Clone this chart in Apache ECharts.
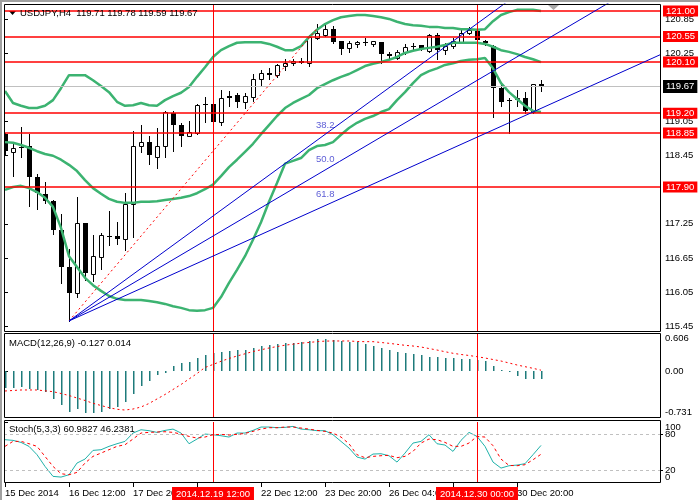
<!DOCTYPE html>
<html>
<head>
<meta charset="utf-8">
<script src="https://cdn.jsdelivr.net/npm/echarts@6/dist/echarts.min.js"></script>
<style>html,body{margin:0;padding:0;background:#fff;}#c{width:700px;height:500px;}</style>
</head>
<body>
<div id="c"></div>
<script>
// ---------------- DATA ----------------
const barTimes = [
 '15 Dec 04:00','15 Dec 08:00','15 Dec 12:00','15 Dec 16:00','15 Dec 20:00',
 '16 Dec 00:00','16 Dec 04:00','16 Dec 08:00','16 Dec 12:00','16 Dec 16:00','16 Dec 20:00',
 '17 Dec 00:00','17 Dec 04:00','17 Dec 08:00','17 Dec 12:00','17 Dec 16:00','17 Dec 20:00',
 '18 Dec 00:00','18 Dec 04:00','18 Dec 08:00','18 Dec 12:00','18 Dec 16:00','18 Dec 20:00',
 '19 Dec 00:00','19 Dec 04:00','19 Dec 08:00','19 Dec 12:00','19 Dec 16:00','19 Dec 20:00',
 '22 Dec 00:00','22 Dec 04:00','22 Dec 08:00','22 Dec 12:00','22 Dec 16:00','22 Dec 20:00',
 '23 Dec 00:00','23 Dec 04:00','23 Dec 08:00','23 Dec 12:00','23 Dec 16:00','23 Dec 20:00',
 '24 Dec 00:00','24 Dec 04:00','24 Dec 08:00','24 Dec 12:00','24 Dec 16:00','24 Dec 20:00',
 '26 Dec 00:00','26 Dec 04:00','26 Dec 08:00','26 Dec 12:00','26 Dec 16:00','26 Dec 20:00',
 '29 Dec 00:00','29 Dec 04:00','29 Dec 08:00','29 Dec 12:00','29 Dec 16:00','29 Dec 20:00',
 '30 Dec 00:00','30 Dec 04:00','30 Dec 08:00','30 Dec 12:00','30 Dec 16:00','30 Dec 20:00',
 '31 Dec 00:00','31 Dec 04:00','31 Dec 08:00'
];
const opens = [
 118.83,118.52,118.61,118.62,118.07,117.78,117.65,117.14,116.49,116.04,
 117.26,116.36,116.67,117.04,117.04,116.98,117.60,118.63,118.69,118.43,
 118.63,119.20,118.99,118.80,118.85,119.36,119.37,119.05,119.50,119.52,
 119.40,119.48,119.81,119.90,119.87,120.03,120.08,120.12,120.08,120.52,
 120.58,120.68,120.48,120.34,120.42,120.46,120.41,120.45,120.25,120.17,
 120.28,120.38,120.40,120.30,120.58,120.31,120.39,120.46,120.61,120.65,
 120.47,120.38,119.65,119.43,119.46,119.47,119.22,119.71];
const closes = [
 118.54,118.58,118.61,118.08,117.79,117.66,117.15,116.49,116.04,117.26,
 116.38,116.68,117.05,117.04,116.98,117.60,118.62,118.69,118.46,118.62,
 119.22,118.99,118.80,118.86,119.34,119.36,119.05,119.46,119.47,119.40,
 119.50,119.81,119.90,119.88,120.05,120.09,120.12,120.09,120.55,120.61,
 120.68,120.46,120.33,120.43,120.46,120.45,120.48,120.25,120.20,120.28,
 120.36,120.36,120.33,120.58,120.31,120.39,120.47,120.61,120.67,120.49,
 120.44,119.64,119.40,119.42,119.47,119.24,119.71,119.67];
const lows = [
 118.46,118.09,118.43,117.56,117.52,117.62,117.08,116.20,115.54,115.97,
 116.26,116.25,116.45,116.88,116.90,116.79,117.01,118.52,118.31,118.23,
 118.42,118.53,118.63,118.79,118.83,119.05,119.04,118.99,119.33,119.31,
 119.29,119.41,119.68,119.81,119.84,119.96,120.05,120.08,120.03,120.51,
 120.56,120.43,120.25,120.27,120.36,120.40,120.38,120.08,120.17,120.15,
 120.24,120.33,120.31,120.28,120.15,120.24,120.34,120.45,120.59,120.47,
 120.40,119.14,119.33,118.85,119.33,119.20,119.20,119.59];
const highs = [
 118.85,118.69,118.96,118.83,118.13,117.99,117.67,117.42,116.80,117.72,
 117.27,117.05,117.09,117.48,117.28,117.79,118.89,118.99,118.80,118.93,
 119.23,119.23,119.02,119.07,119.37,119.49,119.38,119.61,119.59,119.55,
 119.55,119.89,119.96,119.99,120.06,120.16,120.15,120.17,120.58,120.77,
 120.75,120.74,120.48,120.48,120.47,120.52,120.48,120.45,120.27,120.31,
 120.41,120.44,120.40,120.59,120.61,120.43,120.52,120.67,120.71,120.67,
 120.49,120.40,119.70,119.46,119.60,119.57,119.72,119.78];
const bbUpper = [
 119.59,119.38,119.33,119.29,119.29,119.33,119.43,119.64,119.87,119.87,
 119.87,119.78,119.68,119.57,119.40,119.33,119.34,119.38,119.34,119.33,
 119.43,119.50,119.56,119.66,119.84,120.01,120.19,120.31,120.38,120.44,
 120.45,120.45,120.45,120.42,120.37,120.31,120.31,120.38,120.54,120.67,
 120.77,120.84,120.89,120.91,120.93,120.93,120.91,120.89,120.86,120.81,
 120.77,120.75,120.74,120.72,120.72,120.70,120.70,120.68,120.68,120.67,
 120.68,120.82,120.93,120.98,121.02,121.02,121.02,121.00];
const bbMiddle = [
 118.69,118.68,118.64,118.59,118.53,118.48,118.45,118.38,118.29,118.18,
 118.02,117.88,117.78,117.69,117.64,117.62,117.62,117.64,117.64,117.65,
 117.67,117.69,117.71,117.74,117.79,117.86,117.94,118.09,118.25,118.38,
 118.52,118.66,118.83,118.99,119.15,119.29,119.38,119.45,119.52,119.64,
 119.71,119.78,119.84,119.89,119.96,120.03,120.07,120.10,120.14,120.19,
 120.26,120.30,120.33,120.35,120.37,120.40,120.44,120.44,120.44,120.44,
 120.42,120.37,120.31,120.28,120.24,120.19,120.15,120.10];
const bbLower = [
 117.85,117.90,117.92,117.88,117.81,117.71,117.55,117.18,116.68,116.49,
 116.30,116.17,116.07,115.98,115.93,115.91,115.91,115.91,115.89,115.87,
 115.84,115.80,115.77,115.73,115.72,115.73,115.77,115.96,116.21,116.44,
 116.68,116.97,117.28,117.64,117.97,118.31,118.36,118.41,118.55,118.62,
 118.64,118.69,118.82,118.94,119.03,119.10,119.15,119.22,119.27,119.43,
 119.57,119.73,119.87,119.94,119.99,120.05,120.08,120.12,120.14,120.15,
 120.17,119.99,119.73,119.57,119.45,119.33,119.24,119.22];
const macdHist = [
 -0.274,-0.269,-0.258,-0.290,-0.301,-0.328,-0.444,-0.540,-0.647,-0.608,
 -0.662,-0.672,-0.647,-0.608,-0.567,-0.497,-0.365,-0.233,-0.153,-0.067,
 -0.026,0.081,0.124,0.149,0.203,0.256,0.283,0.308,0.324,0.335,
 0.335,0.372,0.399,0.415,0.431,0.452,0.452,0.468,0.483,0.506,
 0.506,0.495,0.479,0.468,0.458,0.426,0.404,0.372,0.335,0.308,
 0.283,0.267,0.256,0.229,0.229,0.213,0.203,0.197,0.197,0.176,
 0.165,0.086,0.017,-0.015,-0.078,-0.131,-0.131,-0.127];
const macdSignal = [
 -0.317,-0.309,-0.301,-0.301,-0.301,-0.314,-0.328,-0.357,-0.389,-0.429,
 -0.468,-0.513,-0.548,-0.583,-0.608,-0.620,-0.604,-0.572,-0.516,-0.444,
 -0.373,-0.293,-0.214,-0.126,-0.039,0.057,0.105,0.156,0.200,0.240,
 0.275,0.312,0.339,0.367,0.390,0.412,0.428,0.444,0.456,0.468,
 0.477,0.479,0.479,0.479,0.471,0.468,0.468,0.455,0.442,0.426,
 0.410,0.399,0.383,0.359,0.335,0.308,0.283,0.264,0.248,0.229,
 0.208,0.184,0.160,0.129,0.097,0.070,0.044,0.014];
const stochMain = [
 70.5,69.4,66.0,59.4,45.5,26.0,9.4,8.2,12.1,31.6,
 38.2,52.7,53.8,59.4,63.8,67.7,81.6,87.1,85.5,82.7,
 86.0,88.2,81.6,63.8,71.6,79.9,78.8,77.1,74.9,81.6,
 81.6,86.0,91.6,91.6,90.5,91.0,92.7,88.2,87.1,85.5,
 85.5,78.8,67.7,56.6,41.6,38.2,46.6,47.1,43.8,33.2,
 48.2,64.9,67.7,78.8,63.8,61.6,51.0,69.4,82.7,76.0,
 59.4,33.2,23.2,27.1,28.2,30.5,45.5,60.9827];
const stochSignal = [
 59.4,67.7,67.7,63.8,59.4,42.7,26.0,13.8,12.1,16.0,
 31.6,42.7,48.2,53.8,59.4,62.1,71.6,81.6,82.7,83.3,
 83.8,82.7,79.9,76.0,73.2,74.9,78.8,79.4,78.3,79.4,
 81.0,84.4,88.2,90.5,90.5,91.6,91.6,89.9,88.2,86.0,
 84.4,81.6,74.9,63.8,45.5,40.5,42.7,43.8,44.4,40.5,
 42.7,51.0,64.9,71.6,70.5,66.0,59.4,59.4,64.9,76.0,
 74.9,60.5,38.2,27.7,27.1,28.8,37.1,46.2381];

const priceTicks = [115.45,116.05,116.65,117.25,118.45,119.05,120.25,120.85];
const priceLevels = [121.00,120.55,120.10,119.20,118.85,117.90];
const bidPrice = 119.67;
const macdTicks = [-0.731,0,0.606];
const macdTickLabels = ['-0.731','0.00','0.606'];
const stochEndTicks = [0,100];
const stochLevels = [80,20];
const xTickLabels = ['15 Dec 2014','16 Dec 12:00','17 Dec 20:00','','22 Dec 12:00','23 Dec 20:00','26 Dec 04:00','','30 Dec 20:00'];
const vLineBars = [26,59];
const vLineLabels = ['2014.12.19 12:00','2014.12.30 00:00'];
const fanStart = [8,115.54];
const fanEnd = [39,120.69];
const fanLevels = [38.2,50.0,61.8];

// ---------------- LAYOUT ----------------
const FONT = '"Liberation Sans", Arial, sans-serif';
const FS = 9.5;
const N = barTimes.length;
const X_MIN = -0.125, X_MAX = 81.875;   // 8 px per bar, plot 4..660
const BAR_STEP = 8;
const xTickValues = xTickLabels.map((_, k) => k * BAR_STEP);
const last = N - 1;

const chart = echarts.init(document.getElementById('c'), null, {renderer: 'canvas', devicePixelRatio: 1});

const idx = arr => arr.map((v, i) => [i, v]);
const candleData = opens.map((o, i) => [i, o, closes[i], lows[i], highs[i]]);

function renderCandle(params, api) {
  const i = api.value(0), o = api.value(1), c = api.value(2), l = api.value(3), h = api.value(4);
  const pO = api.coord([i, o]), pC = api.coord([i, c]), pL = api.coord([i, l]), pH = api.coord([i, h]);
  const cx = Math.round(pO[0]) + 0.5;
  const yTop = Math.round(Math.min(pO[1], pC[1]));
  const yBot = Math.round(Math.max(pO[1], pC[1]));
  const up = c > o;
  const children = [{
    type: 'line',
    shape: {x1: cx, y1: Math.round(pH[1]), x2: cx, y2: Math.round(pL[1]) + 1},
    style: {stroke: '#000', lineWidth: 1}
  }];
  if (up) {
    children.push({type: 'rect', shape: {x: cx - 2, y: yTop + 0.5, width: 4, height: Math.max(yBot - yTop, 1)},
      style: {fill: '#fff', stroke: '#000', lineWidth: 1}});
  } else {
    children.push({type: 'rect', shape: {x: cx - 2.5, y: yTop, width: 5, height: Math.max(yBot - yTop, 1)},
      style: {fill: '#000'}});
  }
  return {type: 'group', children};
}

function renderHist(params, api) {
  const i = api.value(0), v = api.value(1);
  const p0 = api.coord([i, 0]), p1 = api.coord([i, v]);
  const x = Math.round(p0[0]);
  const y0 = Math.round(p0[1]), y1 = Math.round(p1[1]);
  return {type: 'rect', shape: {x: x, y: Math.min(y0, y1), width: 1.5, height: Math.max(Math.abs(y1 - y0), 1)},
    style: {fill: '#1e7b7b'}};
}

// Fibonacci fan rays
const fanSpan = fanEnd[0] - fanStart[0];
const fanRange = fanEnd[1] - fanStart[1];
const fanSeries = fanLevels.map(lv => {
  const pLevel = fanEnd[1] - fanRange * lv / 100;
  const slope = (pLevel - fanStart[1]) / fanSpan;
  return {
    type: 'line', xAxisIndex: 0, yAxisIndex: 0, z: 5, symbol: 'none', silent: true, clip: true,
    data: [[fanStart[0], fanStart[1]], [X_MAX, fanStart[1] + slope * (X_MAX - fanStart[0])]],
    lineStyle: {color: '#0000cd', width: 1}
  };
});
const fanLabelData = fanLevels.map(lv => ({value: [fanEnd[0], fanEnd[1] - fanRange * lv / 100], name: lv.toFixed(1)}));

const axisText = {color: '#000', fontSize: FS, fontFamily: FONT};
const hidden = {show: false};

const xAxes = [0, 1, 2].map(g => ({
  type: 'value', gridIndex: g, min: X_MIN, max: X_MAX,
  axisLine: hidden, splitLine: hidden,
  axisTick: g === 2 ? {show: true, inside: false, length: 5, customValues: xTickValues, lineStyle: {color: '#000', width: 1}} : hidden,
  axisLabel: g === 2 ? {show: true, customValues: xTickValues, align: 'left', margin: 6, hideOverlap: false,
    formatter: v => xTickLabels[Math.round(v / BAR_STEP)] || '', ...axisText} : hidden
}));

const option = {
  animation: false,
  backgroundColor: '#fff',
  grid: [
    {left: 4, top: 4, width: 656, height: 327, outerBoundsMode: 'none'},
    {left: 4, top: 333, width: 656, height: 84, outerBoundsMode: 'none'},
    {left: 4, top: 422, width: 656, height: 60, outerBoundsMode: 'none'}
  ],
  title: [
    {text: `USDJPY,H4  ${opens[last].toFixed(2)} ${highs[last].toFixed(2)} ${lows[last].toFixed(2)} ${closes[last].toFixed(2)}`,
      left: 20, top: 8, padding: 0, textStyle: {fontSize: FS, fontWeight: 'normal', color: '#000', fontFamily: FONT}},
    {text: `MACD(12,26,9) ${macdHist[last].toFixed(3)} ${macdSignal[last].toFixed(3)}`,
      left: 9, top: 338, padding: 0, textStyle: {fontSize: FS, fontWeight: 'normal', color: '#000', fontFamily: FONT}},
    {text: `Stoch(5,3,3) ${stochMain[last].toFixed(4)} ${stochSignal[last].toFixed(4)}`,
      left: 9, top: 424.5, padding: 0, textStyle: {fontSize: FS, fontWeight: 'normal', color: '#000', fontFamily: FONT}}
  ],
  xAxis: xAxes,
  yAxis: [
    {type: 'value', gridIndex: 0, position: 'right', min: 115.363, max: 121.123,
      axisLine: hidden, splitLine: hidden,
      axisTick: {show: true, length: 3, customValues: priceTicks, lineStyle: {color: '#000'}},
      axisLabel: {customValues: priceTicks, margin: 5, hideOverlap: false, formatter: v => v.toFixed(2), ...axisText}},
    {type: 'value', gridIndex: 1, position: 'right', min: -0.731, max: 0.606,
      axisLine: hidden, splitLine: hidden,
      axisTick: {show: true, length: 3, customValues: macdTicks, lineStyle: {color: '#000'}},
      axisLabel: {customValues: macdTicks, margin: 5, hideOverlap: false, showMinLabel: true, showMaxLabel: true,
        verticalAlignMinLabel: 'bottom', verticalAlignMaxLabel: 'top',
        formatter: v => macdTickLabels[macdTicks.indexOf(v)] ?? String(v), ...axisText}},
    {type: 'value', gridIndex: 2, position: 'right', min: 0, max: 100,
      axisLine: hidden, splitLine: hidden,
      axisTick: {show: true, length: 3, customValues: stochEndTicks, lineStyle: {color: '#000'}},
      axisLabel: {customValues: stochEndTicks, margin: 5, hideOverlap: false, showMinLabel: true, showMaxLabel: true,
        verticalAlignMinLabel: 'bottom', verticalAlignMaxLabel: 'top',
        formatter: v => String(v), ...axisText}},
    {type: 'value', gridIndex: 2, position: 'right', min: 0, max: 100,
      axisLine: hidden, splitLine: hidden,
      axisTick: {show: true, length: 3, customValues: stochLevels, lineStyle: {color: '#000'}},
      axisLabel: {customValues: stochLevels, margin: 5, hideOverlap: false,
        formatter: v => String(v), ...axisText}}
  ],
  graphic: [
    {type: 'rect', shape: {x: 0, y: 0, width: 700, height: 2}, style: {fill: '#a0a0a0'}, silent: true},
    {type: 'rect', shape: {x: 0, y: 0, width: 2, height: 500}, style: {fill: '#a0a0a0'}, silent: true},
    {type: 'rect', shape: {x: 4.5, y: 4.5, width: 656, height: 327}, style: {fill: 'none', stroke: '#000', lineWidth: 1}, silent: true, z: 50},
    {type: 'rect', shape: {x: 4.5, y: 333.5, width: 656, height: 84}, style: {fill: 'none', stroke: '#000', lineWidth: 1}, silent: true, z: 50},
    {type: 'rect', shape: {x: 4.5, y: 420.5, width: 656, height: 62}, style: {fill: 'none', stroke: '#000', lineWidth: 1}, silent: true, z: 50},
    {type: 'polygon', shape: {points: [[9, 11], [16, 11], [12.5, 15]]}, style: {fill: '#000'}, silent: true},
    {type: 'polygon', shape: {points: [[548, 5], [559, 5], [553.5, 10]]}, style: {fill: '#a8a8a8'}, silent: true}
  ],
  series: [
    {type: 'line', xAxisIndex: 0, yAxisIndex: 0, data: [], z: 1, silent: true,
      markLine: {silent: true, symbol: ['none', 'none'], animation: false,
        data: [
          ...priceLevels.map(p => ({yAxis: p, lineStyle: {color: '#ff0000', width: 1.5, type: 'solid'},
            label: {show: true, position: 'end', distance: 3, formatter: () => p.toFixed(2),
              color: '#fff', backgroundColor: '#ff0000', padding: [1, 3, 0, 3], lineHeight: 10,
              fontSize: FS, fontFamily: FONT}})),
          {yAxis: bidPrice, lineStyle: {color: '#c0c0c0', width: 1, type: 'solid'},
            label: {show: true, position: 'end', distance: 3, formatter: () => bidPrice.toFixed(2),
              color: '#fff', backgroundColor: '#000', padding: [2, 3, 1, 3], lineHeight: 10,
              fontSize: FS, fontFamily: FONT}},
          ...vLineBars.map(b => ({xAxis: b, lineStyle: {color: '#ff0000', width: 1, type: 'solid'}, label: {show: false}}))
        ]}},
    {type: 'custom', name: 'USDJPY', xAxisIndex: 0, yAxisIndex: 0, z: 3, clip: true,
      renderItem: renderCandle, encode: {x: 0, y: [1, 2, 3, 4]}, data: candleData},
    ...[bbUpper, bbMiddle, bbLower].map(arr => ({
      type: 'line', xAxisIndex: 0, yAxisIndex: 0, z: 4, symbol: 'none', silent: true,
      data: idx(arr), lineStyle: {color: '#3cb371', width: 2.5}
    })),
    {type: 'line', xAxisIndex: 0, yAxisIndex: 0, z: 5, symbol: 'none', silent: true,
      data: [fanStart, fanEnd], lineStyle: {color: '#ff0000', width: 1, type: [2, 3]}},
    ...fanSeries,
    {type: 'scatter', xAxisIndex: 0, yAxisIndex: 0, z: 6, symbolSize: 0, silent: true,
      data: fanLabelData,
      label: {show: true, position: [-1, -20], formatter: p => p.name, color: '#3333cc', fontSize: FS, fontFamily: FONT}},
    {type: 'custom', xAxisIndex: 1, yAxisIndex: 1, z: 3, silent: true,
      renderItem: renderHist, encode: {x: 0, y: 1}, data: idx(macdHist),
      markLine: {silent: true, symbol: ['none', 'none'], animation: false,
        data: vLineBars.map(b => ({xAxis: b, lineStyle: {color: '#ff0000', width: 1, type: 'solid'}, label: {show: false}}))}},
    {type: 'line', xAxisIndex: 1, yAxisIndex: 1, z: 4, symbol: 'none', silent: true,
      data: idx(macdSignal), lineStyle: {color: '#ff0000', width: 1, type: [2, 3]}},
    {type: 'line', xAxisIndex: 2, yAxisIndex: 2, z: 4, symbol: 'none', silent: true,
      data: idx(stochMain), lineStyle: {color: '#20b2aa', width: 1},
      markLine: {silent: true, symbol: ['none', 'none'], animation: false,
        data: [
          ...stochLevels.map(v => ({yAxis: v, lineStyle: {color: '#c0c0c0', width: 1, type: [3, 3]}, label: {show: false}})),
          ...vLineBars.map((b, k) => ({xAxis: b, lineStyle: {color: '#ff0000', width: 1, type: 'solid'},
            label: {show: true, position: 'start', distance: 5, formatter: () => vLineLabels[k],
              color: '#fff', backgroundColor: '#ff0000', padding: [2, 4, 1, 4], lineHeight: 10,
              fontSize: FS, fontFamily: FONT}}))
        ]}},
    {type: 'line', xAxisIndex: 2, yAxisIndex: 2, z: 5, symbol: 'none', silent: true,
      data: idx(stochSignal), lineStyle: {color: '#ff0000', width: 1, type: [3, 3]}}
  ]
};
chart.setOption(option);
</script>
</body>
</html>
